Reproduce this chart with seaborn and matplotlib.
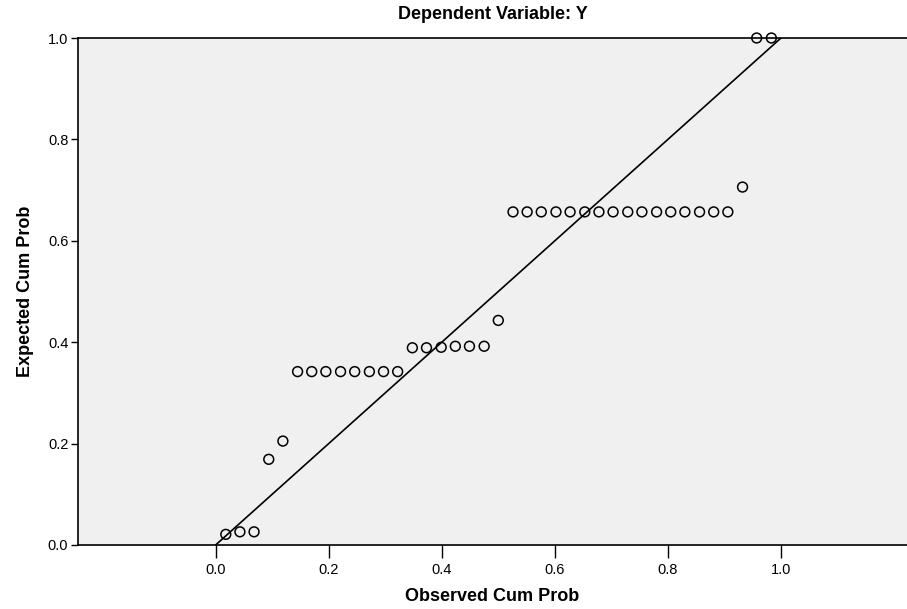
import matplotlib
matplotlib.use("Agg")
import matplotlib.pyplot as plt
import seaborn as sns
import pandas as pd

observed = [0.018, 0.043, 0.068, 0.094, 0.119, 0.145, 0.170, 0.195, 0.221, 0.246,
            0.272, 0.297, 0.322, 0.348, 0.373, 0.399, 0.424, 0.449, 0.475, 0.500,
            0.526, 0.551, 0.576, 0.602, 0.627, 0.653, 0.678, 0.703, 0.729, 0.754,
            0.780, 0.805, 0.830, 0.856, 0.881, 0.906, 0.932, 0.957, 0.983]
expected = [0.021, 0.026, 0.026, 0.169, 0.205, 0.342, 0.342, 0.342, 0.342, 0.342,
            0.342, 0.342, 0.342, 0.389, 0.389, 0.390, 0.392, 0.392, 0.392, 0.443,
            0.657, 0.657, 0.657, 0.657, 0.657, 0.657, 0.657, 0.657, 0.657, 0.657,
            0.657, 0.657, 0.657, 0.657, 0.657, 0.657, 0.706, 1.0, 1.0]
ref_line = [0.0, 1.0]
x_ticks = [0.0, 0.2, 0.4, 0.6, 0.8, 1.0]
y_ticks = [0.0, 0.2, 0.4, 0.6, 0.8, 1.0]

df = pd.DataFrame({"Observed Cum Prob": observed, "Expected Cum Prob": expected})

sns.set_style("white")
plt.rcParams["font.family"] = ["Liberation Sans Narrow", "Liberation Sans", "DejaVu Sans"]
plt.rcParams["text.color"] = "black"
plt.rcParams["axes.labelcolor"] = "black"
plt.rcParams["xtick.color"] = "black"
plt.rcParams["ytick.color"] = "black"

fig = plt.figure(figsize=(9.07, 6.09), dpi=100)
ax = fig.add_axes([78 / 907, 1 - 545 / 609, 1 - 78 / 907, (545 - 38) / 609])
ax.set_facecolor("#f0f0f0")

ax.plot(ref_line, ref_line, color="black", lw=1.2, zorder=2)
sns.scatterplot(data=df, x="Observed Cum Prob", y="Expected Cum Prob", ax=ax,
                marker="o", s=50, facecolor="none", edgecolor="black",
                linewidth=1.1, zorder=3, clip_on=False)

ax.set_xlim(-0.2434, 1.2229)
ax.set_ylim(0.0, 1.0)
ax.set_xticks(x_ticks)
ax.set_yticks(y_ticks)
ax.set_xticklabels([f"{v:.1f}" for v in x_ticks], fontsize=10.5)
ax.set_yticklabels([f"{v:.1f}" for v in y_ticks], fontsize=10.5)
ax.tick_params(axis="x", bottom=True, direction="out", length=9, width=1, color="black", pad=4)
ax.tick_params(axis="y", left=True, direction="out", length=5, width=1, color="black", pad=2)
ax.set_xlabel("Observed Cum Prob", fontsize=13, fontweight="bold", labelpad=8,
              family=["Liberation Sans", "DejaVu Sans"])
ax.set_ylabel("Expected Cum Prob", fontsize=13, fontweight="bold", labelpad=10,
              family=["Liberation Sans", "DejaVu Sans"])
ax.set_title("Dependent Variable: Y", fontsize=13, fontweight="bold", pad=14,
             family=["Liberation Sans", "DejaVu Sans"])
for s in ax.spines.values():
    s.set_color("black")
    s.set_linewidth(1.2)
ax.spines["right"].set_visible(False)

fig.savefig("out.png", dpi=100)
